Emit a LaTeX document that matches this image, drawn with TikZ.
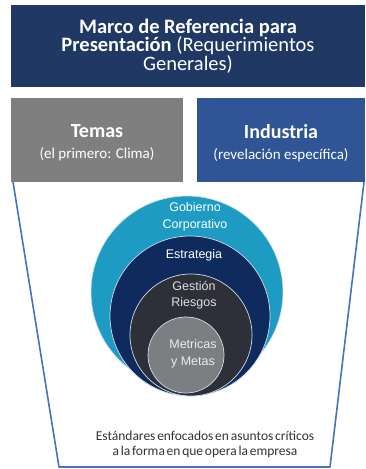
\documentclass[tikz,border=0pt]{standalone}
\usepackage{fontspec}
\setmainfont{Carlito}
\newfontfamily\arialf{Liberation Sans}
\newcommand\tightwords{\spaceskip=0.13em\relax}
\definecolor{titleblue}{HTML}{203864}
\definecolor{boxgray}{HTML}{7F7F7F}
\definecolor{boxblue}{HTML}{2F5597}
\definecolor{trapblue}{HTML}{4472C4}
\definecolor{cteal}{HTML}{1E9BC2}
\definecolor{cnavy}{HTML}{0F2B5E}
\definecolor{cchar}{HTML}{2D3039}
\definecolor{cgray}{HTML}{7C7E82}
\definecolor{ringline}{HTML}{D0DCE8}
\tikzset{
  hbox/.style={rectangle, inner sep=0pt, text=white, align=center},
  subbox/.style={hbox, minimum height=84pt},
  subtext/.style={hbox, font=\fontsize{15}{21}\selectfont},
  ring/.style={circle, inner sep=0pt, draw=ringline, line width=0.7pt},
  ctext/.style={text=white, align=center, font=\arialf\fontsize{12.5}{17.5}\selectfont},
  trap/.style={draw=trapblue, line width=1.6pt, line join=round}
}
\begin{document}
\begin{tikzpicture}[x=1pt,y=-1pt]
\useasboundingbox (0,0) rectangle (365,469);
% trapezoid outline
\coordinate (tl) at (13,182);
\coordinate (bl) at (59,467);
\coordinate (br) at (330,467);
\coordinate (tr) at (364,182);
\draw[trap] (tl) -- (bl) -- (br) -- (tr);
% header boxes
\node[hbox, fill=titleblue, minimum width=354pt, minimum height=82pt,
      font=\fontsize{20.5}{18.5}\selectfont] (title) at (188,46)
  {\textbf{Marco de Referencia para}\\\textbf{Presentación} (Requerimientos\\Generales)};
\node[subbox, fill=boxgray, minimum width=172pt] (temas) at (97,140) {};
\node[subbox, fill=boxblue, minimum width=168pt] (industria) at (281,140) {};
\node[subtext] (temast) at (97,143)
  {{\fontsize{20}{21}\selectfont\textbf{Temas}}\\(el primero: Clima)};
\node[subtext] (industriat) at (281,143)
  {{\fontsize{20}{21}\selectfont\textbf{Industria}}\\(revelación específica)};
% nested circles
\node[ring, fill=cteal, minimum size=192pt] (gob) at (187,292) {};
\node[ring, fill=cnavy, minimum size=160pt] (est) at (190,316) {};
\node[ring, fill=cchar, minimum size=122pt] (ges) at (191,335) {};
\node[ring, fill=cgray, minimum size=76pt] (met) at (186,355) {};
% circle labels
\node[ctext] (tgob) at (195,217) {Gobierno\\Corporativo};
\node[ctext] (test) at (194,255) {Estrategia};
\node[ctext, text=white!88!black, font=\arialf\fontsize{12.5}{16}\selectfont] (tges) at (194,295) {Gestión\\Riesgos};
\node[ctext, text=white!92!black] (tmet) at (193,354) {Metricas\\y Metas};
% bottom text
\node[align=center, text=black!80, font=\fontsize{13.5}{15}\selectfont\tightwords] (std) at (205,444)
  {Estándares enfocados en asuntos críticos\\a la forma en que opera la empresa};
\end{tikzpicture}
\end{document}
